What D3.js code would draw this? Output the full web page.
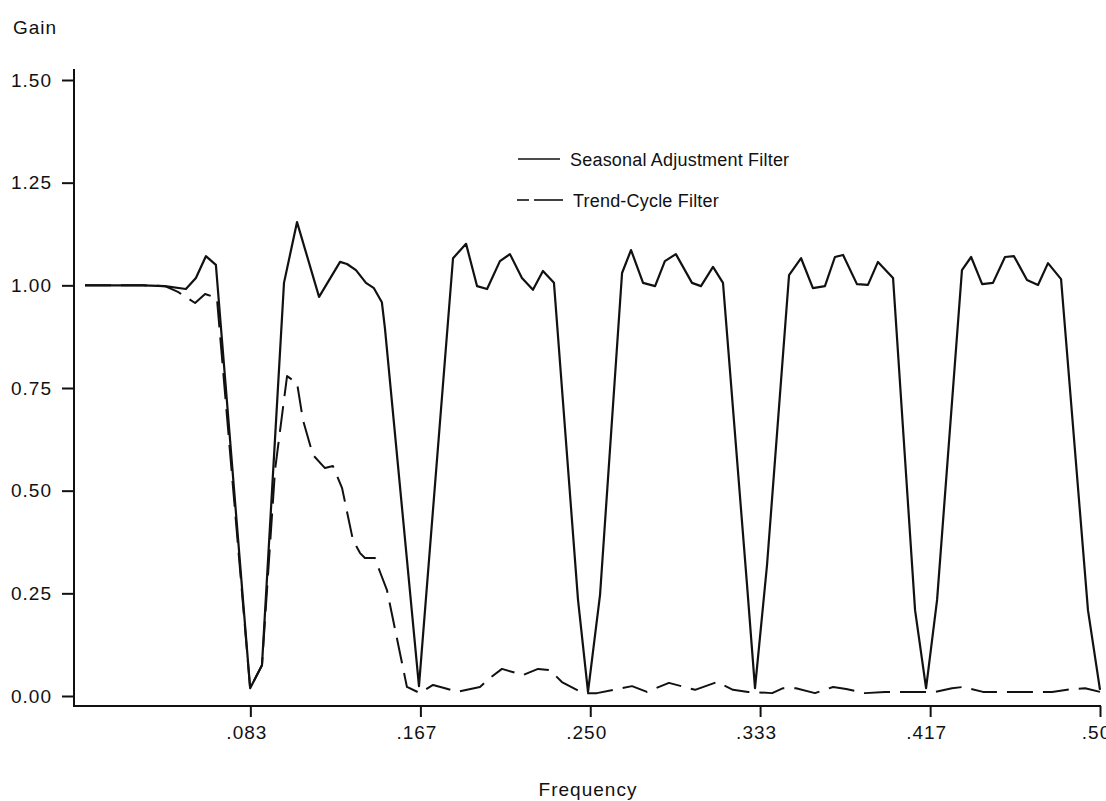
<!DOCTYPE html>
<html>
<head>
<meta charset="utf-8">
<script src="https://cdn.jsdelivr.net/npm/d3@7"></script>
<style>
	body { margin: 0; background: #fff; }
	svg { display: block; }
	text { font-family: "Liberation Sans", Arial, sans-serif; fill: #111; }
	.tick text { font-size: 19px; letter-spacing: 1px; }
	.tick line { stroke: #111; stroke-width: 2; }
</style>
</head>
<body>
<svg id="chart" width="1106" height="801"></svg>
<script>
/* global d3 */

// Seasonal adjustment filter: frequency / gain
var freqSeasonal = [0.0022, 0.0306, 0.0414, 0.0517, 0.0566, 0.0615, 0.0664, 0.0832, 0.0890, 0.0998,
	0.1062, 0.1170, 0.1273, 0.1307, 0.1351, 0.1400, 0.1439, 0.1478, 0.1493, 0.1660,
	0.1827, 0.1891, 0.1945, 0.1994, 0.2057, 0.2106, 0.2165, 0.2219, 0.2268, 0.2322, 0.2440, 0.2489,
	0.2548, 0.2656, 0.2700, 0.2759, 0.2818, 0.2866, 0.2920, 0.2999, 0.3043, 0.3102, 0.3151, 0.3269, 0.3308,
	0.3367, 0.3475, 0.3534, 0.3592, 0.3651, 0.3700, 0.3740, 0.3808, 0.3862, 0.3911, 0.3985, 0.4093, 0.4147,
	0.4201, 0.4323, 0.4368, 0.4422, 0.4475, 0.4534, 0.4578, 0.4642, 0.4696, 0.4745, 0.4809, 0.4941, 0.5000];
var gainSeasonal = [1.000, 1.000, 0.998, 0.991, 1.018, 1.071, 1.050, 0.019, 0.075, 1.006,
	1.154, 0.972, 1.057, 1.052, 1.037, 1.006, 0.993, 0.959, 0.896, 0.024,
	1.066, 1.101, 0.998, 0.991, 1.059, 1.076, 1.018, 0.989, 1.035, 1.006, 0.234, 0.010,
	0.246, 1.030, 1.086, 1.006, 0.998, 1.059, 1.076, 1.006, 0.998, 1.045, 1.006, 0.270, 0.019,
	0.319, 1.025, 1.066, 0.993, 0.998, 1.069, 1.074, 1.003, 1.001, 1.057, 1.018, 0.209, 0.019,
	0.234, 1.037, 1.069, 1.003, 1.006, 1.069, 1.071, 1.013, 1.001, 1.054, 1.015, 0.209, 0.015];

// Trend-cycle filter
var freqTrend = [0.0022, 0.0306, 0.0414, 0.0478, 0.0562, 0.0611, 0.0669, 0.0832, 0.0890, 0.0954,
	0.1013, 0.1062, 0.1091, 0.1140, 0.1199, 0.1238, 0.1283, 0.1336, 0.1371, 0.1395,
	0.1444, 0.1469, 0.1503, 0.1591, 0.1601, 0.1665, 0.1729, 0.1788, 0.1847, 0.1959,
	0.2008, 0.2067, 0.2170, 0.2244, 0.2303, 0.2361, 0.2464, 0.2533, 0.2705, 0.2778,
	0.2886, 0.3014, 0.3122, 0.3200, 0.3274, 0.3392, 0.3446, 0.3509, 0.3602, 0.3691,
	0.3755, 0.3848, 0.3946, 0.4019, 0.4191, 0.4274, 0.4328, 0.4426, 0.4510, 0.4691,
	0.4765, 0.4868, 0.4927, 0.5000];
var gainTrend = [1.000, 1.000, 0.998, 0.984, 0.957, 0.979, 0.969, 0.019, 0.075, 0.550,
	0.779, 0.762, 0.672, 0.587, 0.555, 0.560, 0.506, 0.380, 0.348, 0.336,
	0.336, 0.302, 0.258, 0.046, 0.022, 0.007, 0.027, 0.019, 0.010, 0.022,
	0.044, 0.066, 0.051, 0.066, 0.063, 0.034, 0.007, 0.007, 0.024, 0.010,
	0.032, 0.015, 0.034, 0.015, 0.010, 0.007, 0.019, 0.019, 0.007, 0.022,
	0.017, 0.007, 0.010, 0.010, 0.010, 0.019, 0.022, 0.010, 0.010, 0.010,
	0.010, 0.017, 0.019, 0.010];

var yTicks = [0, 0.25, 0.5, 0.75, 1.0, 1.25, 1.5];
var xTicks = [0.0833, 0.1667, 0.25, 0.3333, 0.4167, 0.5];
var xTickLabels = ['.083', '.167', '.250', '.333', '.417', '.50'];

var svg = d3.select('#chart');

var x = d3.scaleLinear().domain([0, 0.5]).range([80.5, 1100]);
var y = d3.scaleLinear().domain([0, 1.5]).range([696, 80]);

// Achsen
var yAxis = d3.axisLeft(y).tickValues(yTicks).tickFormat(d3.format('.2f'))
	.tickSize(12).tickPadding(10).tickSizeOuter(0);
var gy = svg.append('g').attr('transform', 'translate(74,0)').call(yAxis);
gy.select('.domain').remove();

var xAxis = d3.axisBottom(x).tickValues(xTicks)
	.tickFormat(function (d, i) { return xTickLabels[i]; })
	.tickSize(11).tickPadding(9).tickSizeOuter(0);
var gx = svg.append('g').attr('transform', 'translate(0,706)').call(xAxis);
gx.select('.domain').remove();
gx.selectAll('.tick text').attr('dx', -4);

svg.append('line').attr('x1', 74).attr('x2', 74).attr('y1', 69).attr('y2', 707)
	.attr('stroke', '#111').attr('stroke-width', 2);
svg.append('line').attr('x1', 73).attr('x2', 1101).attr('y1', 706).attr('y2', 706)
	.attr('stroke', '#111').attr('stroke-width', 2);

// Titel
svg.append('text').attr('x', 13).attr('y', 34).style('font-size', '19px')
	.style('letter-spacing', '1px').text('Gain');
svg.append('text').attr('x', 588).attr('y', 796).attr('text-anchor', 'middle')
	.style('font-size', '19px').style('letter-spacing', '1px').text('Frequency');

// Kurven
var line = d3.line()
	.x(function (d) { return x(d[0]); })
	.y(function (d) { return y(d[1]); });

var seasonal = freqSeasonal.map(function (f, i) { return [f, gainSeasonal[i]]; });
var trend = freqTrend.map(function (f, i) { return [f, gainTrend[i]]; });

svg.append('path').datum(trend).attr('d', line)
	.attr('fill', 'none').attr('stroke', '#111').attr('stroke-width', 2)
	.attr('stroke-dasharray', '26,10').attr('stroke-linejoin', 'round');
svg.append('path').datum(seasonal).attr('d', line)
	.attr('fill', 'none').attr('stroke', '#111').attr('stroke-width', 2.2)
	.attr('stroke-linejoin', 'round');

// Legende
var legend = svg.append('g');
legend.append('line').attr('x1', 518).attr('x2', 560).attr('y1', 159).attr('y2', 159)
	.attr('stroke', '#111').attr('stroke-width', 1.6);
legend.append('text').attr('x', 570).attr('y', 166).style('font-size', '18px')
	.style('letter-spacing', '0.2px').text('Seasonal Adjustment Filter');
legend.append('line').attr('x1', 517).attr('x2', 529).attr('y1', 200).attr('y2', 200)
	.attr('stroke', '#111').attr('stroke-width', 1.6);
legend.append('line').attr('x1', 534).attr('x2', 563).attr('y1', 200).attr('y2', 200)
	.attr('stroke', '#111').attr('stroke-width', 1.6);
legend.append('text').attr('x', 573).attr('y', 207).style('font-size', '18px')
	.style('letter-spacing', '0.2px').text('Trend-Cycle Filter');
</script>
</body>
</html>
